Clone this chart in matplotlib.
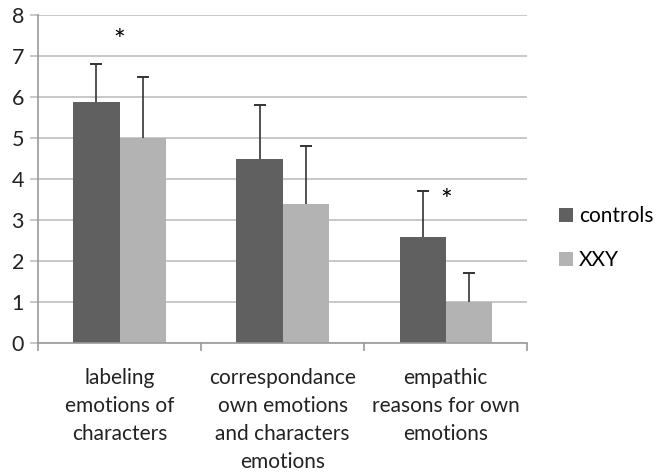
import matplotlib
matplotlib.use("Agg")
import matplotlib.pyplot as plt
import numpy as np

categories = ["labeling\nemotions of\ncharacters",
              "correspondance\nown emotions\nand characters\nemotions",
              "empathic\nreasons for own\nemotions"]
controls = [5.87, 4.5, 2.6]
controls_err = [0.93, 1.3, 1.1]
xxy = [5.0, 3.4, 1.0]
xxy_err = [1.5, 1.4, 0.7]
yticks = [0, 1, 2, 3, 4, 5, 6, 7, 8]
stars = [(0, 7.35), (2, 3.45)]

plt.rcParams['font.family'] = ['Lato', 'DejaVu Sans']

fig = plt.figure(figsize=(6.63, 4.72), dpi=100)
ax = fig.add_axes([0.0573, 0.273, 0.738, 0.695])

x = np.arange(len(categories))
w = 0.283
ax.bar(x - w/2, controls, w, color='#606060', label='controls', zorder=2)
ax.bar(x + w/2, xxy, w, color='#b3b3b3', label='XXY', zorder=2)
for xs, vals, errs in [(x - w/2, controls, controls_err), (x + w/2, xxy, xxy_err)]:
    tops = np.array(vals) + np.array(errs)
    ax.vlines(xs, vals, tops, color='#333333', linewidth=1.2, zorder=3)
    ax.errorbar(xs, tops, yerr=np.zeros(3), fmt='none', ecolor='#333333',
                elinewidth=1.2, capsize=4.5, capthick=1.2, zorder=3)
for i, yv in stars:
    ax.text(i, yv, '*', ha='center', va='center', fontsize=20, color='black')

ax.set_xlim(-0.5, 2.5)
ax.set_ylim(0, 8)
ax.set_yticks(yticks)
ax.set_yticklabels([str(t) for t in yticks], fontsize=15.5, color='#222222')
ax.yaxis.grid(True, color='#bfbfbf', linewidth=1.2, zorder=0)
ax.set_axisbelow(True)
ax.tick_params(axis='y', length=6, color='#bfbfbf', width=1.2, pad=4)

ax.set_xticks(x)
ax.set_xticklabels(categories, fontsize=15, color='#222222', linespacing=1.5)
ax.set_xticks([-0.5, 0.5, 1.5, 2.5], minor=True)
ax.tick_params(axis='x', which='major', length=0, pad=18)
ax.tick_params(axis='x', which='minor', length=6, color='#999999', width=1.2)

for s in ['top', 'right']:
    ax.spines[s].set_visible(False)
ax.spines['left'].set_color('#999999')
ax.spines['bottom'].set_color('#999999')
ax.spines['left'].set_linewidth(1.2)
ax.spines['bottom'].set_linewidth(1.2)

leg = fig.legend(loc='center left', bbox_to_anchor=(0.815, 0.495), frameon=False,
                 fontsize=15, handlelength=0.65, handleheight=0.65,
                 handletextpad=0.3, labelspacing=1.15)

fig.savefig('out.png', dpi=100)
